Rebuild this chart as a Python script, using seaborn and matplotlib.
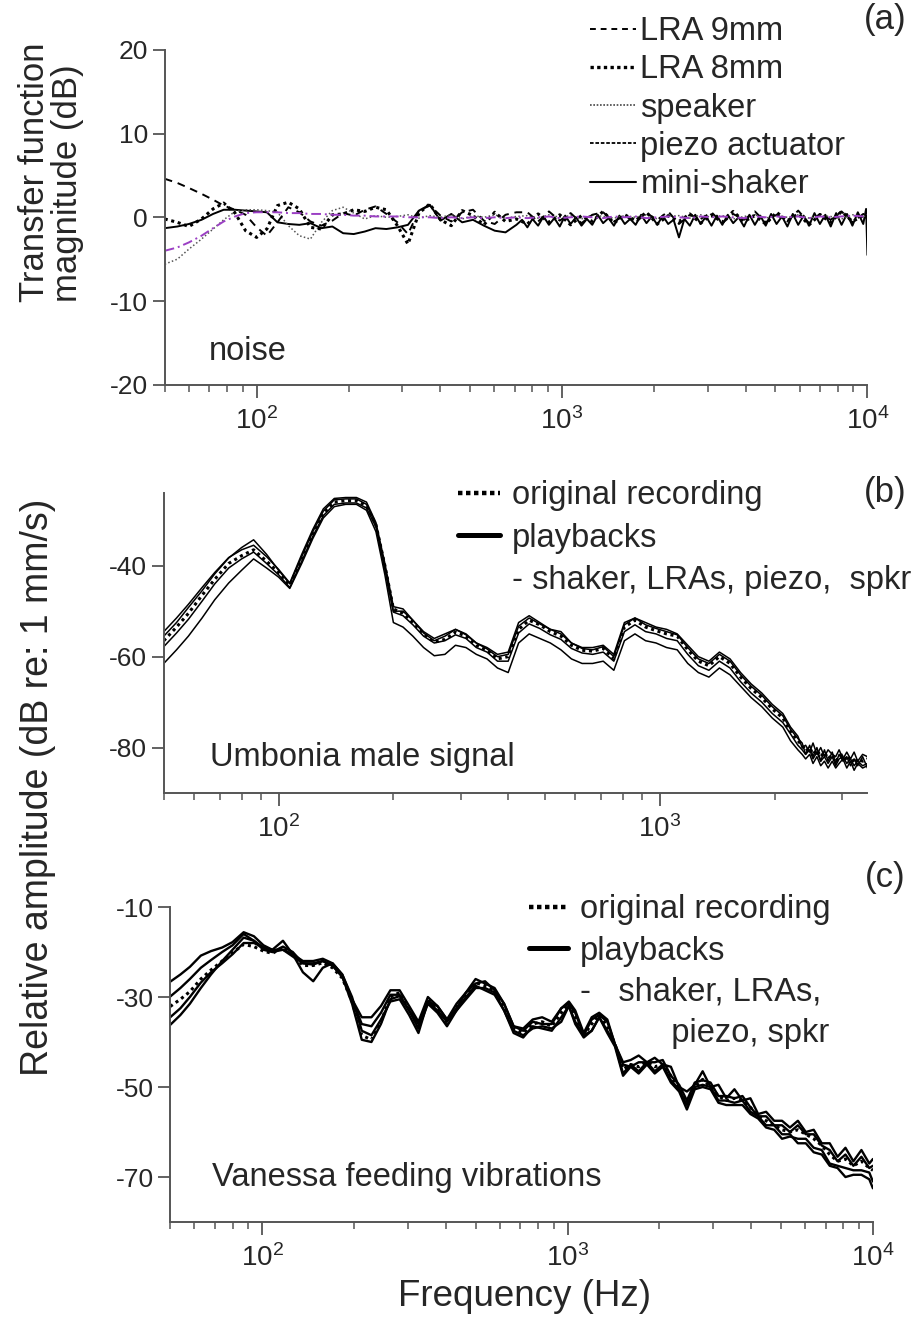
import matplotlib
matplotlib.use('Agg')
import matplotlib.pyplot as plt
from matplotlib.lines import Line2D
from matplotlib.ticker import LogLocator, NullFormatter, LogFormatterSciNotation
import seaborn as sns

sns.set_style('ticks')
plt.rcParams.update({
    'font.family': ['Liberation Sans', 'DejaVu Sans'],
    'axes.unicode_minus': False,
    'mathtext.fontset': 'custom',
    'mathtext.rm': 'Liberation Sans',
    'mathtext.it': 'Liberation Sans:italic',
    'mathtext.bf': 'Liberation Sans:bold',
    'mathtext.default': 'regular',
})
NARROW = ['Liberation Sans Narrow', 'Liberation Sans', 'DejaVu Sans']
TXT = 23.5

# ---- panel (a): transfer functions with noise input ----
freq_a = [50, 55, 60, 66, 72, 78, 85, 92, 100, 108,
          117, 127, 138, 150, 163, 177, 192, 208, 226, 245,
          266, 289, 313, 340, 369, 400, 434, 471, 511, 555,
          602, 653, 709,
          770, 835, 906, 983, 1067, 1158, 1256, 1363, 1479, 1605,
          1742, 1890, 2051, 2226, 2415, 2621, 2844, 3086, 3349, 3634,
          3944, 4280, 4644, 5040, 5469, 5934, 6440, 6988, 7583, 8229,
          8930, 9690, 10000]
# the mini-shaker trace is read on a finer grid above 700 Hz
freq_shaker_a = freq_a[:33] + [
    740, 770, 800, 835, 870, 906, 944, 983, 1024, 1067,
    1111, 1158, 1206, 1256, 1309, 1363, 1420, 1479, 1541, 1605,
    1672, 1742, 1815, 1890, 1969, 2051, 2137, 2226, 2319, 2415,
    2516, 2621, 2730, 2844, 2963, 3086, 3215, 3349, 3489, 3634,
    3786, 3944, 4108, 4280, 4458, 4644, 4838, 5040, 5250, 5469,
    5697, 5934, 6182, 6440, 6708, 6988, 7280, 7583, 7900, 8229,
    8572, 8930, 9302, 9690, 9900, 10000]
lra9_a = [4.6, 4.1, 3.5, 2.8, 2.1, 1.4, 0.9, 0.3, -1.2, -2.2,
          -0.6, 1.2, 0.6, -0.5, -1.0, -0.4, 0.5, 0.2, 0.9, 1.3,
          0.4, -0.6, -2.0, 0.8, 1.4, 0.2, -0.5, 0.6, 0.9, -0.4,
          -0.8, 0.3, 0.6,
          0.6, -0.5, 0.7, -0.4, 0.5, -0.7, 0.3, 0.6, -0.5, 0.2,
          -0.6, 0.5, -0.3, 0.7, -0.8, 0.3, -0.2, 0.6, -0.7, 0.4,
          -0.3, 0.7, -0.6, 0.3, -0.5, 0.8, -0.7, 0.4, -0.3, 0.7,
          -0.6, 0.4, 0.3]
lra8_a = [-0.2, -0.6, -1.1, -0.2, 1.0, 1.7, 0.5, -1.6, -2.4, -1.4,
          1.4, 1.8, 1.0, -1.2, -1.4, 0.3, 0.4, 0.9, 0.7, 1.2,
          0.9, -1.0, -3.2, 0.5, 1.6, -0.3, -1.0, 0.8, 0.2, -0.9,
          0.6, -0.5, -0.2,
          -0.8, 0.4, -0.6, 0.3, -0.9, 0.2, -0.5, 0.7, -0.7, 0.3,
          -0.4, 0.6, -0.8, 0.2, -0.5, 0.4, -0.7, 0.3, -0.6, 0.7,
          -0.5, 0.2, -0.8, 0.6, -0.4, 0.4, -0.9, 0.3, -0.6, 0.7,
          -0.5, 0.2, 0.0]
speaker_a = [-5.6, -5.0, -3.8, -2.6, -1.4, -0.3, 0.7, 0.9, 0.9, 0.8,
             0.6, -1.0, -2.2, -2.6, -0.6, 0.8, 1.2, 0.5, -0.2, 0.2,
             0.0, 0.1, 0.3, -0.1, 0.2, 0.0, 0.3, -0.2, 0.2, 0.0,
             0.3, -0.1, 0.1,
             0.2, -0.1, 0.3, 0.0, 0.2, -0.2, 0.3, 0.1, -0.1, 0.2,
             0.0, 0.3, -0.2, 0.1, 0.2, -0.1, 0.3, 0.0, 0.2, -0.2,
             0.1, 0.3, -0.1, 0.2, 0.0, 0.3, -0.1, 0.2, 0.1, -0.2,
             0.3, 0.1, 0.2]
piezo_a = [-4.0, -3.6, -3.0, -2.2, -1.3, -0.5, 0.1, 0.5, 0.6, 0.6,
           0.6, 0.5, 0.5, 0.4, 0.4, 0.3, 0.3, 0.2, 0.2, 0.1,
           0.1, 0.1, 0.0, 0.0, 0.0, -0.1, 0.0, -0.1, 0.0, -0.1,
           0.0, -0.1, 0.0,
           -0.1, 0.0, 0.1, -0.1, 0.0, 0.1, 0.0, -0.1, 0.1, 0.0,
           0.1, -0.1, 0.0, 0.1, 0.0, -0.1, 0.1, 0.0, 0.1, 0.0,
           -0.1, 0.1, 0.0, 0.1, 0.0, 0.1, -0.1, 0.1, 0.0, 0.1,
           0.2, 0.1, 0.3]
shaker_a = [-1.3, -1.1, -0.8, -0.3, 0.4, 0.9, 0.9, 0.8, 0.7, 0.6,
            -0.6, -0.8, -0.9, -0.7, -1.3, -1.1, -1.9, -2.0, -1.7, -1.3,
            -1.4, -1.2, -0.9, 0.8, 1.5, -0.4, 0.4, -0.6, -0.3, -1.0,
            -1.6, -1.8, -0.9,
            -0.3, -1.2, -0.2, -1.0, 0.1, -0.9, -0.1, -1.1, 0.2, -0.8,
            0.0, -1.0, -0.2, -0.9, 0.3, -0.7, -0.1, -1.0, 0.2, -0.8,
            -0.2, -0.9, 0.3, -0.7, 0.1, -0.9, 0.2, -0.8, -0.3, -2.4,
            -0.2, -1.0, 0.3, -0.8, 0.1, -1.0, 0.2, -0.9, 0.3, -0.7,
            0.0, -1.1, 0.3, -0.9, 0.2, -1.0, 0.4, -0.8, 0.1, -1.1,
            0.4, -0.9, 0.2, -1.0, 0.5, -0.8, 0.3, -1.1, 0.5, -0.9,
            0.4, -1.0, 0.6, -0.8, 1.0, -4.5]

# ---- panel (b): Umbonia male signal ----
freq_b = [50, 54, 58, 63, 68, 74, 80, 86, 93, 100,
          107, 115, 123, 131, 140, 150, 160, 170, 180, 190,
          200, 212, 225, 240, 256, 273, 291, 310, 330, 352,
          375, 400, 426, 454, 484, 516, 550, 586, 625, 666,
          710, 757, 807, 860, 917, 977, 1041, 1110, 1183, 1261,
          1344, 1432, 1527, 1627, 1734, 1849, 1970, 2100, 2200,
          2300, 2360, 2410, 2470, 2520, 2580, 2640, 2700, 2760, 2830,
          2890, 2950, 3020, 3090, 3160, 3230, 3300, 3400, 3500]
orig_b = [-56.5, -53.5, -50.5, -46.5, -43.0, -39.5, -37.8, -36.5, -39.0, -41.5,
          -44.3, -38.5, -33.0, -28.5, -26.0, -25.7, -25.7, -26.8, -31.0, -40.0,
          -49.5, -50.5, -52.5, -55.0, -56.8, -56.2, -54.6, -55.5, -57.5, -58.6,
          -60.5, -60.0, -54.0, -52.0, -53.0, -54.5, -55.5, -57.5, -58.6, -58.8,
          -58.2, -60.5, -53.5, -52.0, -53.5, -54.3, -55.0, -55.5, -58.5, -61.0,
          -62.0, -60.0, -61.5, -64.5, -67.0, -69.0, -71.5, -73.5, -76.5,
          -78.5, -79.5, -80.8, -80.0, -81.5, -80.5, -82.0, -81.0, -82.5, -81.5,
          -83.0, -82.0, -81.5, -83.0, -82.0, -83.5, -82.5, -83.0, -82.5]
play1_b = [-54.5, -51.5, -48.5, -44.8, -41.5, -38.2, -36.5, -35.5, -38.0, -40.8,
           -43.8, -37.5, -32.0, -27.5, -25.2, -25.0, -25.0, -26.0, -30.5, -39.5,
           -49.0, -49.5, -52.0, -54.5, -56.0, -55.0, -54.0, -55.0, -57.0, -58.0,
           -59.5, -59.0, -52.5, -51.0, -52.5, -54.0, -54.5, -57.0, -58.0, -58.0,
           -57.5, -59.5, -52.5, -51.5, -52.5, -53.5, -54.0, -55.0, -57.5, -60.0,
           -61.0, -59.0, -60.5, -63.5, -66.0, -68.0, -70.5, -72.5, -75.5,
           -77.5, -80.0, -79.5, -81.0, -79.0, -81.5, -80.0, -82.0, -80.5, -81.5,
           -82.0, -80.5, -82.5, -81.0, -82.5, -81.0, -83.0, -81.5, -82.0]
play2_b = [-61.5, -58.5, -55.5, -51.5, -47.5, -43.8, -41.0, -38.5, -40.5, -42.5,
           -45.0, -39.5, -34.0, -29.5, -27.0, -26.5, -26.5, -27.8, -32.5, -42.0,
           -52.5, -53.5, -55.5, -58.0, -59.8, -59.5, -57.5, -58.0, -59.5, -60.5,
           -62.5, -63.5, -57.0, -55.0, -56.0, -57.0, -58.5, -60.5, -61.5, -61.5,
           -61.0, -63.0, -56.5, -55.0, -56.5, -57.0, -58.0, -58.5, -61.5, -63.5,
           -64.5, -62.5, -64.0, -66.5, -69.0, -71.0, -73.5, -75.5, -78.5,
           -80.5, -81.5, -82.5, -81.5, -83.5, -82.0, -84.0, -83.0, -84.5, -83.0,
           -84.5, -83.5, -82.5, -84.5, -83.0, -85.0, -83.5, -84.5, -84.0]
play3_b = [-57.8, -54.8, -51.8, -47.8, -44.0, -40.5, -38.5, -37.0, -39.5, -42.0,
           -44.8, -39.0, -33.5, -29.0, -26.5, -26.2, -26.2, -27.3, -31.5, -40.8,
           -50.2, -51.0, -53.0, -55.5, -57.0, -56.5, -55.2, -56.0, -58.0, -59.0,
           -61.0, -61.0, -54.8, -52.8, -53.8, -55.2, -56.2, -58.2, -59.2, -59.5,
           -59.0, -61.0, -54.5, -53.0, -54.5, -55.0, -56.0, -56.5, -59.5, -62.0,
           -63.0, -61.0, -62.5, -65.5, -68.0, -70.0, -72.5, -74.5, -77.0,
           -79.5, -80.5, -81.5, -80.5, -82.5, -81.0, -83.0, -82.0, -83.5, -82.0,
           -84.0, -82.5, -82.0, -83.5, -82.5, -84.0, -83.0, -84.0, -83.5]
play4_b = [-55.5, -52.5, -49.2, -45.5, -41.8, -38.3, -36.0, -34.3, -37.5, -41.0,
           -44.0, -38.0, -32.5, -28.0, -25.5, -25.3, -25.3, -26.5, -31.0, -40.3,
           -50.0, -50.0, -52.0, -54.8, -56.5, -55.5, -54.0, -55.2, -57.0, -58.3,
           -60.0, -59.5, -53.3, -51.5, -52.8, -54.0, -55.0, -57.0, -58.2, -58.5,
           -57.8, -60.0, -53.0, -51.5, -53.0, -53.8, -54.5, -55.2, -58.0, -60.5,
           -61.5, -59.5, -61.0, -64.0, -66.5, -68.5, -71.0, -73.0, -76.0,
           -78.0, -79.0, -81.5, -79.5, -82.0, -80.0, -83.0, -80.5, -83.0, -81.0,
           -83.5, -81.5, -83.0, -82.0, -84.0, -82.5, -84.0, -82.0, -84.5]

# ---- panel (c): Vanessa feeding vibrations ----
freq_c = [50, 54, 58, 63, 68, 74, 80, 87, 94, 101,
          108, 117, 126, 136, 147, 158, 170, 183, 197, 212,
          228, 245, 263, 282, 303, 325, 349, 375, 403, 433,
          465, 500, 537, 577, 620, 666, 716, 769, 826, 888,
          954, 1010, 1060, 1130, 1200, 1270, 1350, 1430, 1520, 1610,
          1710, 1820, 1930, 2050, 2180, 2320, 2460, 2610, 2770, 2940,
          3120, 3310, 3520, 3740, 3970, 4210, 4470, 4750, 5040, 5350,
          5680, 6030, 6400, 6800, 7220, 7660, 8130, 8630, 9170, 9730,
          10000]
orig_c = [-32.1, -30.5, -28.8, -26.0, -24.0, -22.0, -20.2, -18.3, -18.8, -19.8,
          -20.3, -19.0, -20.5, -23.0, -23.0, -22.4, -23.5, -25.8, -31.0, -38.5,
          -39.5, -35.5, -30.0, -29.0, -32.5, -36.8, -30.5, -32.5, -35.7, -32.0,
          -29.5, -26.8, -27.5, -28.5, -32.0, -37.0, -38.0, -36.0, -35.5, -36.5,
          -33.5, -31.5, -34.5, -38.5, -36.0, -34.0, -36.5, -40.5, -46.0, -45.0,
          -45.5, -44.5, -45.5, -45.0, -47.5, -50.5, -53.5, -50.0, -48.3, -50.0,
          -52.0, -53.0, -52.5, -53.0, -54.5, -56.5, -57.5, -58.5, -59.5, -60.0,
          -59.5, -60.5, -61.5, -63.0, -65.0, -66.5, -66.0, -67.5, -66.5, -68.0,
          -68.5]
play1_c = [-26.6, -25.0, -23.3, -20.8, -19.8, -19.0, -17.8, -15.6, -16.5, -18.5,
           -19.5, -19.5, -20.5, -22.0, -22.0, -21.5, -22.5, -25.0, -30.5, -34.5,
           -34.5, -32.0, -28.5, -28.5, -32.0, -35.5, -30.0, -32.0, -35.0, -31.5,
           -29.0, -26.0, -27.0, -28.0, -31.5, -36.5, -37.0, -35.0, -34.5, -35.5,
           -32.5, -31.0, -33.0, -38.0, -34.5, -33.5, -35.0, -40.5, -44.5, -44.0,
           -43.0, -44.5, -43.5, -45.0, -45.5, -50.0, -51.0, -49.5, -46.5, -50.0,
           -49.5, -52.5, -50.5, -53.0, -52.5, -56.0, -55.5, -57.5, -57.5, -59.0,
           -57.5, -60.0, -59.5, -62.5, -62.5, -65.5, -63.5, -66.5, -64.0, -67.0,
           -66.0]
play2_c = [-29.9, -28.0, -26.0, -23.5, -21.8, -20.0, -18.5, -16.0, -17.5, -19.5,
           -20.0, -19.5, -21.0, -22.5, -22.5, -22.0, -23.0, -25.5, -30.5, -36.0,
           -36.5, -33.5, -29.5, -29.5, -33.0, -36.0, -31.0, -33.0, -35.5, -33.0,
           -30.0, -27.5, -28.5, -29.5, -33.0, -38.0, -39.0, -36.5, -37.0, -37.5,
           -34.5, -32.0, -36.0, -39.0, -37.5, -34.5, -38.0, -41.0, -47.5, -45.5,
           -47.0, -45.0, -47.0, -45.5, -49.0, -51.0, -55.0, -50.5, -50.0, -50.5,
           -53.5, -54.0, -54.0, -54.0, -56.0, -57.0, -59.0, -59.5, -61.5, -61.0,
           -61.5, -61.5, -63.5, -64.0, -67.0, -67.5, -68.0, -68.5, -68.5, -69.0,
           -71.0]
play3_c = [-36.2, -34.0, -31.5, -28.0, -25.0, -22.0, -19.5, -16.8, -17.5, -19.0,
           -20.0, -18.8, -20.0, -22.5, -22.8, -22.0, -23.0, -25.5, -31.5, -39.5,
           -40.0, -36.0, -30.5, -29.8, -33.0, -37.0, -31.5, -33.5, -36.5, -33.0,
           -30.5, -28.0, -28.0, -29.0, -33.0, -37.5, -38.5, -37.0, -36.5, -37.0,
           -35.5, -32.0, -35.5, -38.5, -37.5, -34.5, -37.5, -40.5, -47.0, -45.0,
           -46.5, -44.5, -46.5, -45.0, -48.5, -50.5, -54.0, -50.0, -49.5, -50.0,
           -53.0, -53.0, -53.5, -53.0, -55.5, -56.5, -58.5, -58.5, -60.5, -60.5,
           -62.5, -62.5, -64.5, -65.0, -67.5, -68.0, -70.0, -69.5, -69.5, -70.5,
           -72.5]
play4_c = [-34.5, -32.5, -30.0, -26.8, -24.5, -22.5, -20.5, -18.0, -18.0, -19.0,
           -19.5, -17.5, -20.5, -24.5, -26.5, -23.5, -22.5, -25.0, -30.0, -37.5,
           -38.5, -35.0, -31.0, -30.5, -34.0, -38.0, -31.0, -32.0, -35.0, -32.5,
           -29.0, -27.0, -26.5, -28.5, -31.5, -36.5, -37.5, -35.5, -36.0, -36.0,
           -32.5, -31.5, -33.5, -38.5, -35.0, -34.0, -35.5, -40.5, -45.0, -45.5,
           -44.5, -44.5, -44.5, -44.0, -47.5, -49.5, -53.0, -49.0, -48.5, -49.0,
           -52.0, -52.0, -52.5, -52.0, -54.5, -56.5, -56.5, -58.5, -58.5, -60.0,
           -58.5, -60.5, -60.5, -63.0, -64.0, -66.5, -65.0, -67.5, -65.5, -68.0,
           -67.5]

SPINE = '#555555'


def style_axis(ax, xlim, ylim, yticks):
    ax.set_xscale('log')
    ax.set_xlim(*xlim)
    ax.set_ylim(*ylim)
    ax.set_yticks(yticks)
    ax.xaxis.set_major_locator(LogLocator(base=10))
    ax.xaxis.set_major_formatter(LogFormatterSciNotation())
    ax.xaxis.set_minor_locator(LogLocator(base=10, subs=range(2, 10)))
    ax.xaxis.set_minor_formatter(NullFormatter())
    sns.despine(ax=ax)
    for s in ['left', 'bottom']:
        ax.spines[s].set_color(SPINE)
        ax.spines[s].set_linewidth(1.4)
    ax.tick_params(which='major', direction='out', length=9, width=1.3, color=SPINE)
    ax.tick_params(axis='y', labelsize=19, pad=3)
    ax.tick_params(axis='x', which='major', labelsize=20, pad=7)
    ax.tick_params(which='minor', direction='out', length=5, width=1.1, color=SPINE)
    ax.set_xlabel('')
    ax.set_ylabel('')


def text_legend(ax, handles, labels, anchor, hlen, hpad, lspace):
    ax.legend(handles, labels, loc='upper left', bbox_to_anchor=anchor,
              frameon=False, borderpad=0, borderaxespad=0, handlelength=hlen,
              handletextpad=hpad, labelspacing=lspace,
              prop={'family': NARROW, 'size': TXT})


fig = plt.figure(figsize=(9.15, 13.27), dpi=100)
ax_a = fig.add_axes([0.180, 0.710, 0.768, 0.2525])
ax_b = fig.add_axes([0.179, 0.4024, 0.769, 0.2261])
ax_c = fig.add_axes([0.186, 0.0791, 0.768, 0.2374])

# panel (a)
sns.lineplot(x=freq_shaker_a, y=shaker_a, ax=ax_a, color='black', lw=1.4)
sns.lineplot(x=freq_a, y=speaker_a, ax=ax_a, color='#555555', lw=1.1, linestyle=(0, (1, 1.5)))
sns.lineplot(x=freq_a, y=lra8_a, ax=ax_a, color='black', lw=2.2, linestyle=(0, (1, 1.2)))
sns.lineplot(x=freq_a, y=lra9_a, ax=ax_a, color='black', lw=1.4, linestyle=(0, (4, 3)))
sns.lineplot(x=freq_a, y=piezo_a, ax=ax_a, color='#9b3fc4', lw=1.4, linestyle=(0, (5, 2, 1, 2)))
style_axis(ax_a, (50, 10000), (-20, 20), [-20, -10, 0, 10, 20])
handles_a = [Line2D([], [], color='black', lw=1.4, linestyle=(0, (3, 2.5))),
             Line2D([], [], color='black', lw=2.4, linestyle=(0, (1, 1))),
             Line2D([], [], color='#444444', lw=1.2, linestyle=(0, (1, 1))),
             Line2D([], [], color='black', lw=1.3, linestyle=(0, (2, 1))),
             Line2D([], [], color='black', lw=1.5)]
labels_a = ['LRA 9mm', 'LRA 8mm', 'speaker', 'piezo actuator', 'mini-shaker']
text_legend(ax_a, handles_a, labels_a, (0.605, 1.10), 1.4, 0.15, 0.22)
ax_a.text(0.063, 0.0985, 'noise', transform=ax_a.transAxes, va='center',
          family=NARROW, fontsize=TXT)

# panel (b)
for vals in [play1_b, play2_b, play3_b, play4_b]:
    sns.lineplot(x=freq_b, y=vals, ax=ax_b, color='black', lw=1.1)
sns.lineplot(x=freq_b, y=orig_b, ax=ax_b, color='black', lw=2.2, linestyle=(0, (1, 1.2)))
style_axis(ax_b, (50, 3500), (-90, -24), [-80, -60, -40])
handles_b = [Line2D([], [], color='black', lw=3.2, linestyle=(0, (1, 0.8))),
             Line2D([], [], color='black', lw=3.6),
             Line2D([], [], color='none')]
labels_b = ['original recording', 'playbacks', '- shaker, LRAs, piezo,  spkr']
text_legend(ax_b, handles_b, labels_b, (0.418, 1.043), 1.3, 0.35, 0.35)
ax_b.text(0.065, 0.12, 'Umbonia male signal', transform=ax_b.transAxes, va='center',
          family=NARROW, fontsize=TXT)

# panel (c)
for vals in [play1_c, play2_c, play3_c, play4_c]:
    sns.lineplot(x=freq_c, y=vals, ax=ax_c, color='black', lw=1.7)
sns.lineplot(x=freq_c, y=orig_c, ax=ax_c, color='black', lw=2.2, linestyle=(0, (1, 1.2)))
style_axis(ax_c, (50, 10000), (-80, -10), [-70, -50, -30, -10])
handles_c = [Line2D([], [], color='black', lw=3.2, linestyle=(0, (1, 0.8))),
             Line2D([], [], color='black', lw=3.6),
             Line2D([], [], color='none'),
             Line2D([], [], color='none')]
labels_c = ['original recording', 'playbacks', '-   shaker, LRAs,', '          piezo, spkr']
text_legend(ax_c, handles_c, labels_c, (0.511, 1.041), 1.2, 0.35, 0.32)
ax_c.text(0.06, 0.14, 'Vanessa feeding vibrations', transform=ax_c.transAxes, va='center',
          family=NARROW, fontsize=TXT)

# shared labels
fig.text(51 / 915, 1 - 172 / 1327, 'Transfer function\nmagnitude (dB)', rotation=90,
         ha='center', va='center', multialignment='left', fontsize=25, linespacing=1.0)
fig.text(38 / 915, 1 - 787 / 1327, 'Relative amplitude (dB re: 1 mm/s)', rotation=90,
         ha='center', va='center', fontsize=27)
fig.text(525 / 915, 1 - 1297 / 1327, 'Frequency (Hz)', ha='center', va='center', fontsize=26.5)
for lab, yy in [('(a)', 20), ('(b)', 492), ('(c)', 878)]:
    fig.text(885 / 915, 1 - yy / 1327, lab, ha='center', va='center',
             family=NARROW, fontsize=25)

fig.savefig('out.png', dpi=100)
